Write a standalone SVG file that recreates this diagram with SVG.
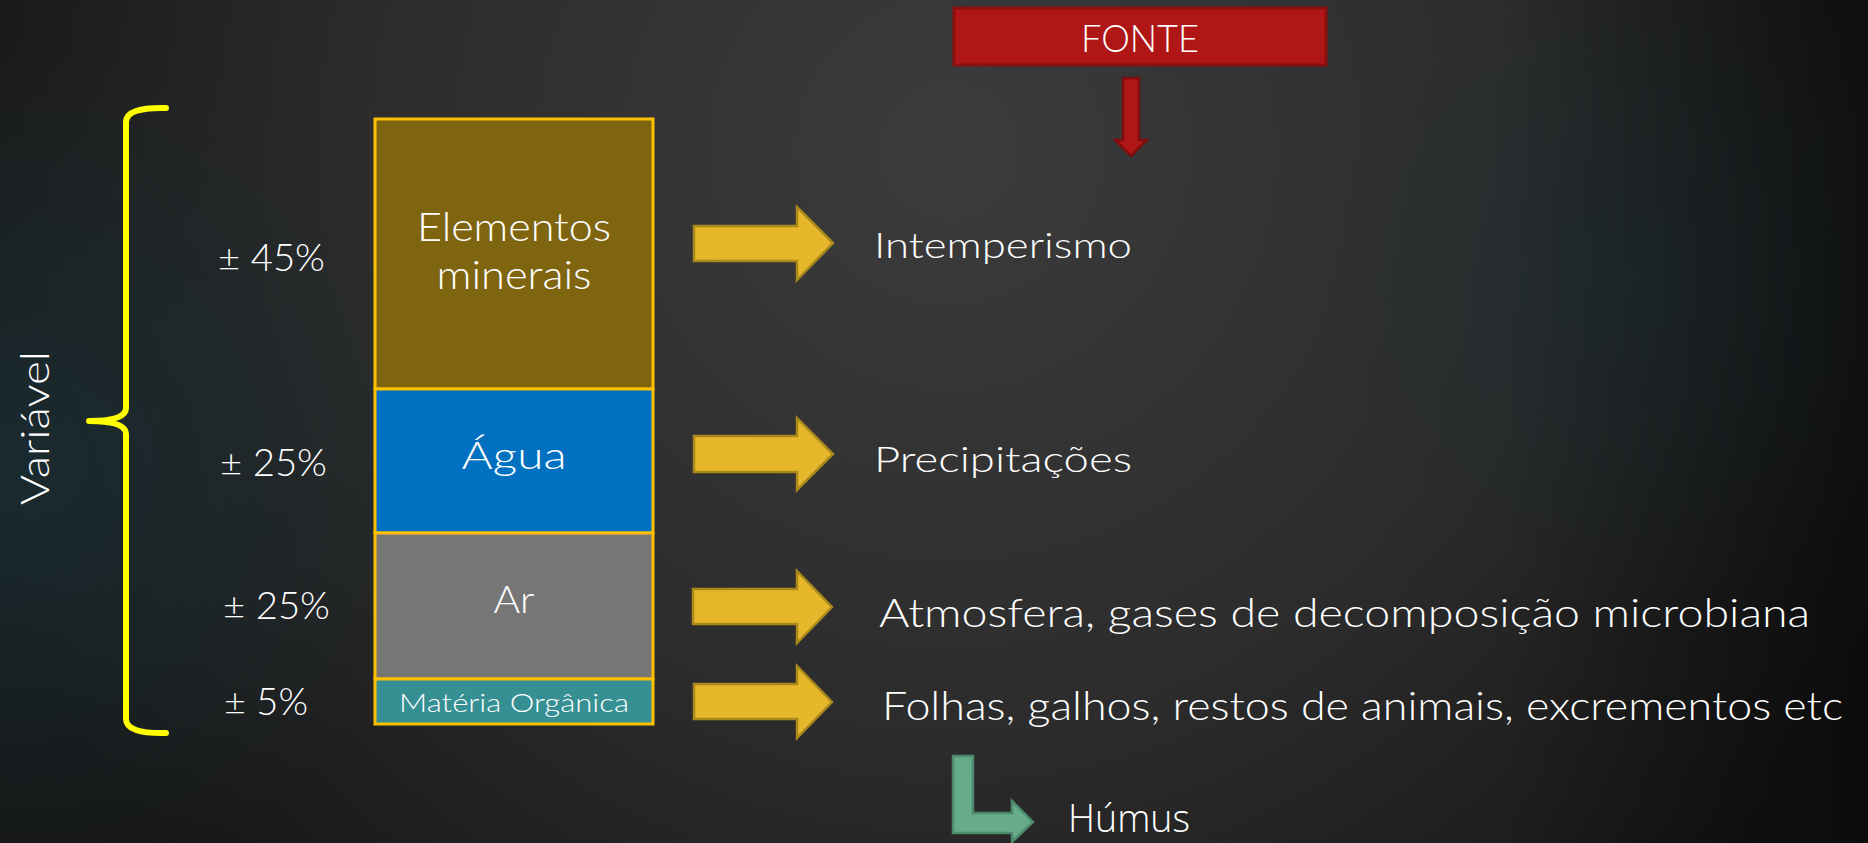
<svg xmlns="http://www.w3.org/2000/svg" width="1868" height="843" viewBox="0 0 1868 843">
<defs>
<radialGradient id="bg1" cx="950" cy="150" r="1050" gradientUnits="userSpaceOnUse">
<stop offset="0" stop-color="#3c3c3c"/>
<stop offset="0.55" stop-color="#2c2c2c"/>
<stop offset="1" stop-color="#161616"/>
</radialGradient>
<radialGradient id="tealR" cx="1640" cy="280" r="330" gradientUnits="userSpaceOnUse">
<stop offset="0" stop-color="#1f2d31" stop-opacity="0.75"/>
<stop offset="1" stop-color="#1f2d31" stop-opacity="0"/>
</radialGradient>
<radialGradient id="tealL" cx="20" cy="470" r="420" gradientUnits="userSpaceOnUse">
<stop offset="0" stop-color="#1a2e34" stop-opacity="0.85"/>
<stop offset="1" stop-color="#1a2e34" stop-opacity="0"/>
</radialGradient>
<linearGradient id="rightDark" x1="1500" y1="0" x2="1868" y2="0" gradientUnits="userSpaceOnUse">
<stop offset="0" stop-color="#000" stop-opacity="0"/>
<stop offset="1" stop-color="#000" stop-opacity="0.45"/>
</linearGradient>
<style>
.t{font-family:Lato,"Liberation Sans","DejaVu Sans",sans-serif;fill:#ffffff;font-weight:300}
.h{font-family:"Open Sans",Lato,"Liberation Sans",sans-serif;fill:#ffffff;font-weight:300}
.ya{fill:#E6B72B;stroke:#A9891B;stroke-width:2.5;stroke-linejoin:miter}
.seg{stroke:#FFC000;stroke-width:3}
</style>
</defs>
<rect x="0" y="0" width="1868" height="843" fill="url(#bg1)"/>
<rect x="0" y="0" width="1868" height="843" fill="url(#tealR)"/>
<rect x="0" y="0" width="1868" height="843" fill="url(#tealL)"/>
<rect x="0" y="0" width="1868" height="843" fill="url(#rightDark)"/>

<g id="fonte">
<rect x="954" y="8" width="372" height="57" fill="#B01616" stroke="#8A0F0F" stroke-width="3"/>
<text class="t" x="1140" y="52" text-anchor="middle" font-size="38" textLength="118" lengthAdjust="spacingAndGlyphs">FONTE</text>
</g>

<g id="variavel">
<text class="t" transform="translate(49,428) rotate(-90)" x="0" y="0" text-anchor="middle" font-size="40" textLength="154" lengthAdjust="spacingAndGlyphs">Variável</text>
</g>

<g id="bracket">
<path d="M166,108 Q126,107 126,122 L126,408 Q126,421 89,421 Q126,421 126,434 L126,719 Q126,734 166,733" fill="none" stroke="#FFFF00" stroke-width="6" stroke-linecap="round" stroke-linejoin="round"/>
</g>

<g id="percentages">
<text class="t" x="218" y="271" font-size="38" textLength="107" lengthAdjust="spacingAndGlyphs">± 45%</text>
<text class="t" x="220" y="476" font-size="38" textLength="107" lengthAdjust="spacingAndGlyphs">± 25%</text>
<text class="t" x="223" y="619" font-size="38" textLength="107" lengthAdjust="spacingAndGlyphs">± 25%</text>
<text class="t" x="224" y="715" font-size="38" textLength="84" lengthAdjust="spacingAndGlyphs">± 5%</text>
</g>

<g id="minerais">
<rect class="seg" x="375" y="119" width="278" height="270" fill="#806511"/>
<text class="t" x="514" y="241" text-anchor="middle" font-size="39" textLength="194" lengthAdjust="spacingAndGlyphs">Elementos</text>
<text class="t" x="514" y="289" text-anchor="middle" font-size="39" textLength="155" lengthAdjust="spacingAndGlyphs">minerais</text>
</g>
<g id="agua">
<rect class="seg" x="375" y="389" width="278" height="144" fill="#0070C0"/>
<text class="t" x="514" y="469" text-anchor="middle" font-size="38" textLength="105" lengthAdjust="spacingAndGlyphs">Água</text>
</g>
<g id="ar">
<rect class="seg" x="375" y="533" width="278" height="146" fill="#767676"/>
<text class="t" x="514" y="613" text-anchor="middle" font-size="38" textLength="41" lengthAdjust="spacingAndGlyphs">Ar</text>
</g>
<g id="materia">
<rect class="seg" x="375" y="679" width="278" height="45" fill="#368F93"/>
<text class="t" x="514" y="712" text-anchor="middle" font-size="25" textLength="230" lengthAdjust="spacingAndGlyphs">Matéria Orgânica</text>
</g>

<g id="connectors">
<polygon class="ya" points="694,226 797,226 797,207 833,243 797,280 797,261 694,261"/>
<polygon class="ya" points="694,436 797,436 797,418 833,454 797,490 797,472 694,472"/>
<polygon class="ya" points="693,589 797,589 797,571 832,607 797,643 797,624 693,624"/>
<polygon class="ya" points="694,684 797,684 797,666 832,702 797,738 797,719 694,719"/>
<polygon points="1123,78 1139,78 1139,140 1147,140 1131,156 1115,140 1123,140" fill="#B01616" stroke="#7E0D0D" stroke-width="2.5"/>
<polygon points="953,756 973,756 973,813 1012,813 1012,801 1033,822 1012,842 1012,833 953,833" fill="#66AB8A" stroke="#4C8A6B" stroke-width="2.5"/>
</g>

<g id="intemperismo">
<text class="t" x="874" y="258" font-size="36" textLength="258" lengthAdjust="spacingAndGlyphs">Intemperismo</text>
</g>
<g id="precipitacoes">
<text class="t" x="874" y="472" font-size="36" textLength="258" lengthAdjust="spacingAndGlyphs">Precipitações</text>
</g>
<g id="atmosfera">
<text class="t" x="879" y="627" font-size="39" textLength="931" lengthAdjust="spacingAndGlyphs">Atmosfera, gases de decomposição microbiana</text>
</g>
<g id="folhas">
<text class="t" x="882" y="720" font-size="39" textLength="961" lengthAdjust="spacingAndGlyphs">Folhas, galhos, restos de animais, excrementos etc</text>
</g>
<g id="humus">
<text class="h" x="1068" y="832" font-size="38" textLength="122" lengthAdjust="spacingAndGlyphs">Húmus</text>
</g>
</svg>
